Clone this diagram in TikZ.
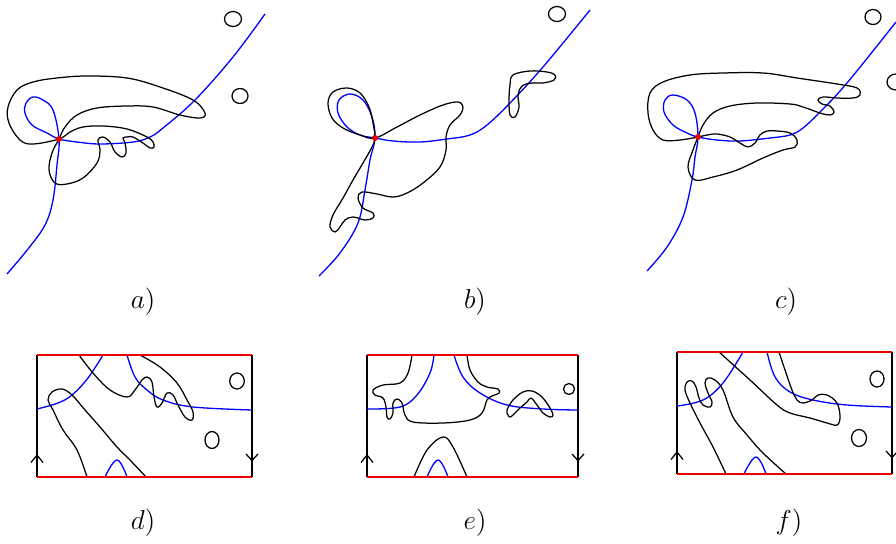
\documentclass[tikz,border=0pt]{standalone}
\usepackage{amsmath}
\usepackage{amssymb}
\begin{document}
\begin{tikzpicture}[x=1pt,y=-1pt,>=stealth]
            \definecolor{wblue}{RGB}{0,0,255}
            \definecolor{wred}{RGB}{230,0,0}
            \tikzset{
                wire/.style={wblue,line width=1.3pt},
                curve/.style={black,line width=1.25pt},
                seam/.style={wred,line width=1.4pt},
                side/.style={black,line width=1.25pt},
                lbl/.style={font=\Large,scale=1.9,inner sep=0pt}
            }
            \useasboundingbox (0,0) rectangle (896,543);
            % a)
            \draw[wire] plot[smooth,tension=0.6] coordinates {(7,274) (28,249) (45,225) (53,200) (57,165) (59,139) (53,110) (43,100) (33,97) (26,103) (25,113) (32,125) (47,133) (59,139) (77,142) (100,144) (133,142) (150,137) (163,128) (195,100) (233,57) (265,14)};
            \draw[curve] plot[smooth cycle,tension=0.6] coordinates {(59,139) (33,144) (20,140) (9,123) (8,107) (17,90) (33,82) (57,78) (87,76) (127,78) (160,87) (193,100) (205,113) (200,118) (180,115) (153,107) (127,106) (97,108) (77,115) (65,127) (59,139) (52,153) (49,170) (55,183) (67,184) (83,178) (97,163) (100,150) (98,140) (103,137) (110,142) (115,152) (122,157) (126,153) (125,143) (123,138) (127,137) (133,137) (143,143) (150,148) (154,147) (153,142) (147,137) (127,129) (103,126) (83,127) (70,132)};
            \draw[curve] (233,19) ellipse (8.5 and 7.5);
            \draw[curve] (240,96) ellipse (8 and 7.5);
            \fill[wred] (59,139) circle (3);
            % b)
            \draw[wire] plot[smooth,tension=0.6] coordinates {(319,276) (340,253) (358,223) (365,190) (370,160) (375,138) (372,117) (363,100) (350,94) (339,100) (338,113) (347,127) (360,135) (375,138) (393,141) (420,142) (447,139) (470,135) (487,125) (510,103) (543,67) (590,10)};
            \draw[curve] plot[smooth cycle,tension=0.6] coordinates {(375,138) (397,127) (420,115) (443,105) (458,102) (463,107) (460,115) (450,125) (446,137) (446,150) (440,167) (423,183) (407,193) (393,197) (377,194) (362,192) (358,198) (363,208) (373,213) (373,218) (365,220) (353,217) (345,220) (340,227) (335,232) (330,227) (333,215) (343,198) (353,180) (363,163) (372,147) (375,138) (373,123) (369,107) (360,93) (347,88) (333,92) (328,103) (332,118) (343,128) (360,135)};
            \draw[curve] plot[smooth cycle,tension=0.6] coordinates {(513,75) (530,71) (547,72) (555,75) (554,80) (543,83) (532,83) (522,86) (518,95) (519,107) (515,117) (510,115) (509,100) (510,85)};
            \draw[curve] (557,14) ellipse (8.5 and 7.5);
            \fill[wred] (375,138) circle (3);
            % c)
            \draw[wire] plot[smooth,tension=0.6] coordinates {(647,271) (667,247) (683,217) (692,180) (695,157) (698,137) (695,113) (687,100) (673,95) (665,100) (664,112) (673,125) (687,133) (698,137) (717,140) (740,141) (770,138) (790,135) (803,128) (820,112) (847,83) (896,22)};
            \draw[curve] plot[smooth cycle,tension=0.6] coordinates {(698,137) (680,140) (663,140) (653,130) (648,113) (650,93) (663,82) (690,75) (723,73) (763,73) (797,78) (837,84) (857,88) (860,95) (853,98) (837,98) (823,97) (818,100) (822,104) (830,106) (834,112) (830,115) (820,113) (803,107) (790,104) (757,103) (730,106) (713,113) (703,125) (698,137) (693,150) (688,167) (695,180) (713,177) (737,170) (763,158) (783,150) (795,147) (797,140) (790,133) (777,131) (767,131) (760,135) (755,143) (748,147) (740,143) (730,137) (717,134) (707,135)};
            \draw[curve] (873,17) ellipse (8 and 7.5);
            \draw[curve] (896,82) ellipse (9 and 8);
            \fill[wred] (698,137) circle (3);
            % frames
            \foreach \l/\t/\r/\b in {37/355/252/477,367/355/578/477,677/352/892/474}{
                \draw[side] (\l,\t) -- (\l,\b);
                \draw[side] (\r,\t) -- (\r,\b);
                \draw[side] (\l-6,\b-14.5) -- (\l,\b-22) -- (\l+6,\b-14.5);
                \draw[side] (\r-6,\b-23) -- (\r,\b-16.5) -- (\r+6,\b-23);
            }
            % d)
            \draw[wire] plot[smooth,tension=0.6] coordinates {(37,409) (58,403) (72,395) (88,378) (103,355)};
            \draw[wire] plot[smooth,tension=0.6] coordinates {(127,355) (135,377) (147,390) (163,400) (193,407) (252,410)};
            \draw[wire] plot[smooth,tension=0.7] coordinates {(105,477) (117,460) (127,477)};
            \draw[curve] plot[smooth,tension=0.6] coordinates {(79,355) (93,373) (110,390) (127,397) (135,390) (142,380) (147,377) (152,382) (154,397) (157,407) (162,403) (167,393) (173,395) (178,405) (185,417) (192,420) (193,412) (187,400) (177,383) (160,367) (140,355)};
            \draw[curve] plot[smooth,tension=0.6] coordinates {(87,477) (77,450) (63,430) (53,410) (48,400) (52,392) (62,389) (72,395) (85,410) (100,427) (117,447) (130,460) (146,477)};
            \draw[curve] (237,381) ellipse (7.3 and 8);
            \draw[curve] (212,440) ellipse (7 and 8.5);
            % e)
            \draw[wire] plot[smooth,tension=0.6] coordinates {(367,409) (400,407) (417,395) (430,373) (434,355)};
            \draw[wire] plot[smooth,tension=0.6] coordinates {(454,355) (463,377) (480,393) (507,405) (543,409) (578,410)};
            \draw[wire] plot[smooth,tension=0.7] coordinates {(427,477) (438,460) (448,477)};
            \draw[curve] plot[smooth,tension=0.6] coordinates {(412,355) (408,373) (400,383) (383,385) (373,390) (375,395) (383,398) (386,407) (387,417) (390,419) (393,413) (393,403) (397,399) (402,403) (405,415) (413,422) (443,423) (470,420) (482,413) (487,400) (492,396) (499,393) (498,389) (487,387) (478,382) (470,370) (467,355)};
            \draw[curve] plot[smooth cycle,tension=0.6] coordinates {(508,415) (507,410) (513,400) (523,392) (532,391) (542,397) (550,408) (553,415) (550,417) (543,413) (537,405) (531,398) (527,402) (520,408) (513,415) (510,417)};
            \draw[curve] plot[smooth,tension=0.6] coordinates {(414,477) (427,450) (443,437) (453,447) (467,477)};
            \draw[curve] (569,389) circle (5.5);
            % f)
            \draw[wire] plot[smooth,tension=0.6] coordinates {(677,406) (703,400) (723,383) (743,352)};
            \draw[wire] plot[smooth,tension=0.6] coordinates {(767,352) (775,377) (790,392) (813,400) (847,405) (892,407)};
            \draw[wire] plot[smooth,tension=0.7] coordinates {(744,474) (756,457) (766,474)};
            \draw[curve] plot[smooth,tension=0.6] coordinates {(719,352) (750,380) (777,405) (790,413) (810,418) (827,423) (837,425) (840,417) (837,403) (827,395) (818,395) (812,400) (803,403) (797,400) (792,390) (785,370) (779,352)};
            \draw[curve] plot[smooth,tension=0.6] coordinates {(726,474) (713,447) (700,423) (690,403) (685,390) (687,382) (692,381) (696,387) (699,398) (703,405) (710,407) (712,402) (708,393) (705,383) (708,378) (715,380) (723,390) (733,417) (747,435) (763,453) (786,474)};
            \draw[curve] (877,379) ellipse (7 and 8);
            \draw[curve] (859,438) ellipse (7.5 and 8.5);
            % red seams
            \foreach \l/\t/\r/\b in {37/355/252/477,367/355/578/477,677/352/892/474}{
                \draw[seam] (\l,\t) -- (\r,\t);
                \draw[seam] (\l,\b) -- (\r,\b);
            }
            % labels
            \node[lbl] (lbla) at (143,302) {$a)$};
            \node[lbl] (lblb) at (475,302) {$b)$};
            \node[lbl] (lblc) at (786,302) {$c)$};
            \node[lbl] (lbld) at (143,523) {$d)$};
            \node[lbl] (lble) at (475,523) {$e)$};
            \node[lbl] (lblf) at (789,523) {$f)$};
        \end{tikzpicture}
\end{document}
